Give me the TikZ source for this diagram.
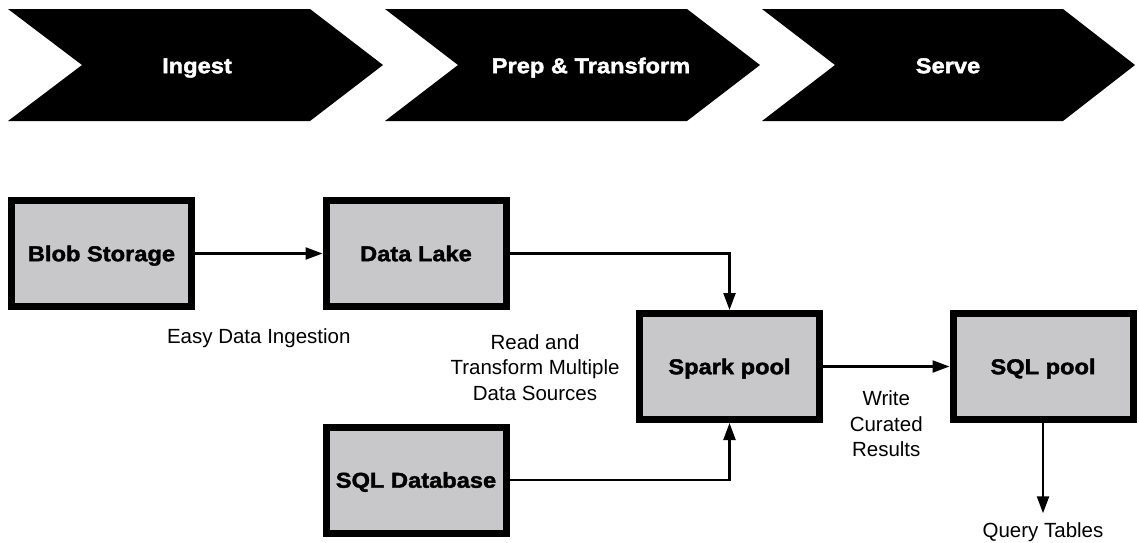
\documentclass[tikz,border=0pt]{standalone}
\usepackage{fontspec}
\setmainfont{Liberation Sans}
\newfontfamily\heavyfont{Liberation Sans}[FakeStretch=1.1,BoldFeatures={FakeBold=1.8}]
\usetikzlibrary{arrows.meta}
\definecolor{boxgray}{RGB}{200,200,202}
\newcommand{\phasefont}{\fontsize{21.5}{24}\heavyfont\bfseries}
\newcommand{\notefont}{\fontsize{20.5}{25.5}\selectfont}

\begin{document}
\begin{tikzpicture}[x=1pt,y=-1pt,
  stage/.style={draw,line width=7pt,fill=boxgray,minimum width=180pt,minimum height=106pt,
    font=\phasefont,text height=15.4pt,text depth=0pt},
  phase/.style={text=white,font=\phasefont,text height=15.4pt,text depth=0pt},
  flow/.style={line width=2.3pt,-{Triangle[length=17pt,width=12pt]}},
  remark/.style={font=\notefont,align=center}]
  \useasboundingbox (0,0) rectangle (1139,542);
  % phases
  \fill (8,9) -- (310,9) -- (383,65) -- (310,121) -- (8,121) -- (82,65) -- cycle;
  \fill (385,9) -- (687,9) -- (760,65) -- (687,121) -- (385,121) -- (458,65) -- cycle;
  \fill (762,9) -- (1063,9) -- (1135,65) -- (1063,121) -- (762,121) -- (835,65) -- cycle;
  \node[phase] (P1) at (197,65.5) {Ingest};
  \node[phase] (P2) at (591,65.5) {Prep \& Transform};
  \node[phase] (P3) at (948,65.5) {Serve};
  % stages
  \node[stage] (Blob)  at (101.5,253.5) {Blob Storage};
  \node[stage] (Lake)  at (416,253.5)   {Data Lake};
  \node[stage] (SqlDb) at (416,480)     {SQL Database};
  \node[stage] (Spark) at (729.5,366.5) {Spark pool};
  \node[stage] (Pool)  at (1043,366.5)  {SQL pool};
  \node[remark] (Read) at (535,367.5) {Read and\\Transform Multiple\\Data Sources};
  \node[remark,inner ysep=9pt] (Query) at (1043,532) {Query Tables};
  \path[flow] (Blob) edge node[remark,below=71pt] {Easy Data Ingestion} (Lake);
  \draw[flow] (Lake) -| (Spark);
  \draw[flow] (SqlDb) -| (Spark);
  \path[flow] (Spark) edge node[remark,below=20pt] {Write\\Curated\\Results} (Pool);
  \path[flow] (Pool) edge (Query);
\end{tikzpicture}
\end{document}
